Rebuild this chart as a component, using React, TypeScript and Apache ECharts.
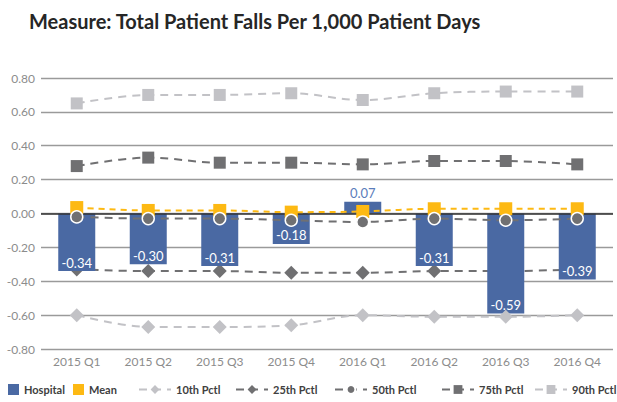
import React, { useEffect, useRef } from "react";
import * as echarts from "echarts";

const categories = ["2015 Q1", "2015 Q2", "2015 Q3", "2015 Q4", "2016 Q1", "2016 Q2", "2016 Q3", "2016 Q4"];
const hospital = [-0.34, -0.30, -0.31, -0.18, 0.07, -0.31, -0.59, -0.39];
const mean = [0.035, 0.018, 0.018, 0.008, 0.012, 0.028, 0.028, 0.028];
const p10 = [-0.60, -0.67, -0.67, -0.66, -0.60, -0.61, -0.61, -0.60];
const p25 = [-0.33, -0.34, -0.34, -0.35, -0.35, -0.34, -0.34, -0.33];
const p50 = [-0.02, -0.03, -0.03, -0.04, -0.05, -0.03, -0.04, -0.03];
const p75 = [0.28, 0.33, 0.30, 0.30, 0.29, 0.31, 0.31, 0.29];
const p90 = [0.65, 0.70, 0.70, 0.71, 0.67, 0.71, 0.72, 0.72];
const yTicks = { min: -0.8, max: 0.8, interval: 0.2 };

const BLUE = "#4a69a3";
const YELLOW = "#fdb913";
const DARK = "#707072";
const LIGHT = "#c2c2c6";

export default function App() {
  const ref = useRef<HTMLDivElement>(null);
  useEffect(() => {
    const chart = echarts.init(ref.current!, null, { renderer: "svg" });
    const font = "Lato, 'Open Sans', sans-serif";
    const lineSeries = (name: string, data: number[], color: string, symbol: string, size: number, z: number, extra: any = {}) => ({
      name,
      type: "line",
      data,
      smooth: 0.35,
      z,
      symbol,
      symbolSize: size,
      itemStyle: { color, ...(extra.itemStyle || {}) },
      lineStyle: { color, width: 2, type: [8, 6], ...(extra.lineStyle || {}) },
    });
    const legendBase = {
      bottom: 2,
      itemHeight: 11,
      textStyle: { fontFamily: font, fontSize: 11, fontWeight: 700, color: "#404040", padding: [0, 0, 0, 0] },
      itemGap: 0,
      selectedMode: false,
    };
    chart.setOption({
      animation: false,
      title: {
        text: "Measure: Total Patient Falls Per 1,000 Patient Days",
        left: 24,
        top: 6,
        textStyle: { fontFamily: font, fontSize: 20, fontWeight: 700, color: "#262626" },
      },
      legend: [
        { ...legendBase, left: 3, itemWidth: 11, data: [{ name: "Hospital", icon: "rect" }] },
        { ...legendBase, left: 68, itemWidth: 11, data: [{ name: "Mean", icon: "rect" }] },
        { ...legendBase, left: 133, itemWidth: 32, data: ["10th Pctl"] },
        { ...legendBase, left: 230, itemWidth: 32, data: ["25th Pctl"] },
        { ...legendBase, left: 329, itemWidth: 32, data: ["50th Pctl"] },
        { ...legendBase, left: 436, itemWidth: 32, data: ["75th Pctl"] },
        { ...legendBase, left: 529, itemWidth: 32, data: ["90th Pctl"] },
      ],
      grid: { left: 41, right: 4, top: 78, bottom: 53, containLabel: false },
      xAxis: {
        type: "category",
        data: categories,
        axisLine: { show: false },
        axisTick: { show: false },
        axisLabel: { color: "#8c8c8c", fontFamily: font, fontSize: 12, margin: 6 },
      },
      yAxis: {
        type: "value",
        min: yTicks.min,
        max: yTicks.max,
        interval: yTicks.interval,
        axisLine: { show: false },
        axisTick: { show: false },
        axisLabel: { color: "#8c8c8c", fontFamily: font, fontSize: 12, margin: 6, formatter: (v: number) => v.toFixed(2) },
        splitLine: { lineStyle: { color: "#9a9a9a", width: 1.3 } },
      },
      series: [
        {
          name: "Hospital",
          type: "bar",
          data: hospital.map((v) => ({
            value: v,
            label: v >= 0
              ? { position: "top", color: "#5a7dbb", distance: 2 }
              : { position: "insideBottom", color: "#ffffff", distance: 2 },
          })),
          barWidth: 37,
          z: 2,
          itemStyle: { color: BLUE },
          label: { show: true, fontFamily: font, fontSize: 13, formatter: (p: any) => p.value.toFixed(2) },
          markLine: {
            silent: true,
            symbol: "none",
            z: 2.5,
            label: { show: false },
            lineStyle: { color: "#333333", width: 1.5, type: "solid" },
            data: [{ yAxis: 0 }],
          },
        },
        lineSeries("Mean", mean, YELLOW, "rect", 13, 3, { lineStyle: { type: [6, 5], width: 2 } }),
        lineSeries("10th Pctl", p10, LIGHT, "diamond", 14, 3),
        lineSeries("25th Pctl", p25, DARK, "diamond", 14, 1),
        lineSeries("50th Pctl", p50, DARK, "circle", 12, 3, { itemStyle: { borderColor: "#ffffff", borderWidth: 1.5 } }),
        lineSeries("75th Pctl", p75, DARK, "rect", 12, 3),
        lineSeries("90th Pctl", p90, LIGHT, "rect", 12, 3),
      ],
    });
    return () => chart.dispose();
  }, []);
  return <div ref={ref} style={{ width: 617, height: 402, position: "absolute", left: 0, top: 0 }} />;
}
